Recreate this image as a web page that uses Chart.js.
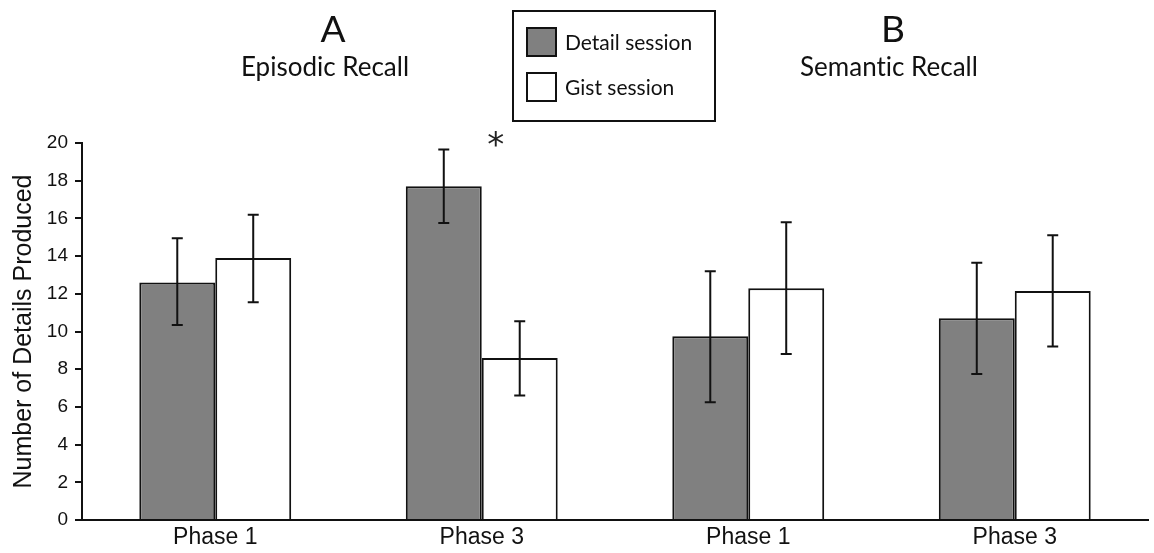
<!DOCTYPE html>
<html lang="en">
<head>
  <meta charset="UTF-8" />
  <title>Episodic vs Semantic Recall</title>
  <script src="https://cdn.jsdelivr.net/npm/chart.js"></script>
  <style>
    body {
      margin: 0;
      background: #fff;
      font-family: Lato, sans-serif;
      font-variant-ligatures: none;
      color: #111;
    }
    .wrap {
      position: relative;
      width: 1154px;
      height: 553px;
    }
    .panel {
      position: absolute;
      text-align: center;
      line-height: 1;
      white-space: nowrap;
    }
    .letter { font-size: 37px; }
    .sub { font-size: 26px; }
    #legend {
      position: absolute;
      left: 512px;
      top: 10px;
      width: 200px;
      height: 108px;
      border: 2px solid #111;
    }
    .item {
      position: absolute;
      left: 12px;
      font-size: 21px;
      line-height: 1;
      white-space: nowrap;
    }
    .swatch {
      position: absolute;
      left: 0;
      width: 27px;
      height: 26px;
      border: 2px solid #111;
    }
    .item span { position: absolute; left: 39px; }
  </style>
</head>
<body>
<div class="wrap">
  <canvas id="recallChart" width="1154" height="553"></canvas>

  <div class="panel letter" style="left:283px;width:100px;top:9px;">A</div>
  <div class="panel sub" style="left:225px;width:200px;top:53px;">Episodic Recall</div>
  <div class="panel letter" style="left:843px;width:100px;top:9px;">B</div>
  <div class="panel sub" style="left:789px;width:200px;top:53px;">Semantic Recall</div>

  <div id="legend"></div>
</div>

<script>
  // categories: A = episodic (first two), B = semantic (last two)
  const phases = ['Phase 1', 'Phase 3', 'Phase 1', 'Phase 3'];

  const detailMeans = [12.6, 17.7, 9.75, 10.7];
  const detailLow   = [10.35, 15.75, 6.25, 7.75];
  const detailHigh  = [14.95, 19.65, 13.2, 13.65];

  const gistMeans = [13.9, 8.6, 12.3, 12.15];
  const gistLow   = [11.55, 6.6, 8.8, 9.2];
  const gistHigh  = [16.2, 10.55, 15.8, 15.1];

  const yTicks = [0, 2, 4, 6, 8, 10, 12, 14, 16, 18, 20];

  // significance marker between the Phase 3 episodic bars
  const starAt = { index: 1, value: 20.35 };

  // error bars, drawn from the low/high arrays through the y scale
  const errorBars = {
    id: 'errorBars',
    afterDatasetsDraw(chart) {
      const ctx = chart.ctx;
      const y = chart.scales.y;
      ctx.save();
      ctx.strokeStyle = '#111';
      ctx.lineWidth = 2;
      chart.data.datasets.forEach((ds, i) => {
        chart.getDatasetMeta(i).data.forEach((bar, j) => {
          const top = y.getPixelForValue(ds.errHigh[j]);
          const bot = y.getPixelForValue(ds.errLow[j]);
          ctx.beginPath();
          ctx.moveTo(bar.x, top);
          ctx.lineTo(bar.x, bot);
          ctx.moveTo(bar.x - 5.5, top);
          ctx.lineTo(bar.x + 5.5, top);
          ctx.moveTo(bar.x - 5.5, bot);
          ctx.lineTo(bar.x + 5.5, bot);
          ctx.stroke();
        });
      });
      // asterisk, glyph centred on the marker value
      const size = 34;
      const x = chart.scales.x.getPixelForValue(starAt.index) + 14;
      ctx.fillStyle = '#222';
      ctx.font = size + 'px "DejaVu Sans", sans-serif';
      ctx.textAlign = 'center';
      ctx.textBaseline = 'alphabetic';
      ctx.fillText('*', x, y.getPixelForValue(starAt.value) + size * 0.58);
      ctx.restore();
    }
  };

  const chart = new Chart(document.getElementById('recallChart'), {
    type: 'bar',
    data: {
      labels: phases,
      datasets: [
        {
          label: 'Detail session',
          data: detailMeans,
          errLow: detailLow,
          errHigh: detailHigh,
          backgroundColor: '#808080',
          borderColor: '#111',
          borderWidth: 2
        },
        {
          label: 'Gist session',
          data: gistMeans,
          errLow: gistLow,
          errHigh: gistHigh,
          backgroundColor: '#ffffff',
          borderColor: '#111',
          borderWidth: 2
        }
      ]
    },
    options: {
      responsive: false,
      animation: false,
      categoryPercentage: 0.57,
      barPercentage: 1.0,
      layout: { padding: { top: 143, right: 6, left: 0, bottom: 0 } },
      plugins: {
        legend: { display: false },
        tooltip: { enabled: false }
      },
      scales: {
        x: {
          grid: { display: false, drawTicks: false },
          border: { color: '#111', width: 2 },
          ticks: {
            color: '#111',
            padding: 4,
            font: { family: '"Liberation Sans", Arial, sans-serif', size: 23 }
          },
          afterFit(scale) { scale.height = 33; }
        },
        y: {
          min: 0,
          max: 20,
          afterBuildTicks(scale) { scale.ticks = yTicks.map(v => ({ value: v })); },
          grid: { drawOnChartArea: false, drawTicks: true, tickLength: 7, color: '#111', lineWidth: 2 },
          border: { color: '#111', width: 2 },
          ticks: {
            color: '#111',
            padding: 7,
            font: { family: '"Liberation Sans", Arial, sans-serif', size: 19 }
          },
          title: {
            display: true,
            text: 'Number of Details Produced',
            color: '#111',
            padding: { top: 9, bottom: 0 },
            font: { family: '"Liberation Sans", Arial, sans-serif', size: 25 }
          },
          afterFit(scale) { scale.width = 82; }
        }
      }
    },
    plugins: [errorBars]
  });

  // legend box built from the datasets
  const legend = document.getElementById('legend');
  chart.data.datasets.forEach((ds, i) => {
    const item = document.createElement('div');
    item.className = 'item';
    item.style.top = (15 + i * 45) + 'px';
    item.innerHTML = '<div class="swatch" style="background:' + ds.backgroundColor + '"></div>' +
      '<span style="top:4px">' + ds.label + '</span>';
    legend.appendChild(item);
  });
</script>
</body>
</html>
